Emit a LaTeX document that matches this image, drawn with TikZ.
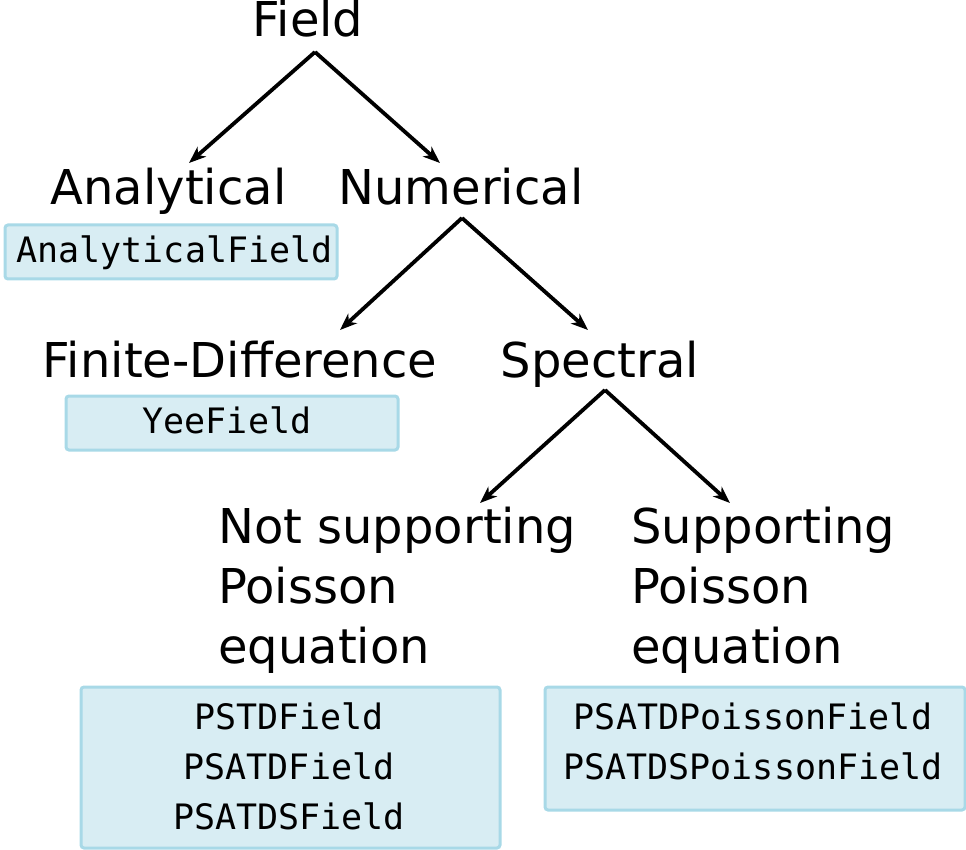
\documentclass[tikz,border=0pt]{standalone}
\usepackage{fontspec}
\setmainfont{DejaVu Sans}
\setmonofont{DejaVu Sans Mono}
\usetikzlibrary{arrows.meta}
\definecolor{boxfill}{RGB}{216,237,243}
\definecolor{boxedge}{RGB}{168,217,231}
\tikzset{
  lbl/.style={font=\fontsize{48pt}{60pt}\selectfont, inner sep=0pt, anchor=base},
  cls/.style={draw=boxedge, fill=boxfill, line width=3pt, rounded corners=3pt, inner sep=0pt, anchor=north west},
  code/.style={font=\ttfamily\fontsize{35pt}{50pt}\selectfont, inner sep=0pt, anchor=base},
  arr/.style={line width=3.8pt, -{Stealth[length=17pt,width=13pt,inset=5pt]}}
}
\begin{document}
\begin{tikzpicture}[x=1pt,y=-1pt]
\useasboundingbox (0,0) rectangle (966,850);
% labels
\node[lbl] (field) at (308,37) {Field};
\node[lbl] (analytical) at (168.5,205) {Analytical};
\node[lbl] (numerical) at (461,205) {Numerical};
\node[lbl] (fd) at (240,377) {Finite-Difference};
\node[lbl] (spectral) at (600,377) {Spectral};
\node[lbl, anchor=base west] (nsp) at (218,543) {\begin{tabular}[t]{@{}l@{}}Not supporting\\Poisson\\equation\end{tabular}};
\node[lbl, anchor=base west] (sp) at (631,543) {\begin{tabular}[t]{@{}l@{}}Supporting\\Poisson\\equation\end{tabular}};
% class boxes
\node[cls, minimum width=332pt, minimum height=54pt] (afbox) at (3.5,223.5) {};
\node[code] (afcode) at (174.5,262) {AnalyticalField};
\node[cls, minimum width=332pt, minimum height=54pt] (yeebox) at (64.5,394.5) {};
\node[code] (yeecode) at (227,433) {YeeField};
\node[cls, minimum width=419pt, minimum height=161pt] (psbox) at (79.5,685.5) {};
\node[code, anchor=base] (pscode) at (289,729) {\begin{tabular}[t]{@{}c@{}}PSTDField\\PSATDField\\PSATDSField\end{tabular}};
\node[cls, minimum width=420pt, minimum height=123pt] (ppbox) at (543.5,685.5) {};
\node[code, anchor=base] (ppcode) at (753,729) {\begin{tabular}[t]{@{}c@{}}PSATDPoissonField\\PSATDSPoissonField\end{tabular}};
% connector points
\coordinate (fapex) at (315,52);
\coordinate (fl) at (189,163);
\coordinate (fr) at (440,163);
\coordinate (napex) at (462,218);
\coordinate (nl) at (340,330);
\coordinate (nr) at (588,330);
\coordinate (sapex) at (605,390);
\coordinate (sl) at (480,503);
\coordinate (sr) at (730,503);
\draw[arr] (fapex) -- (fl);
\draw[arr] (fapex) -- (fr);
\draw[arr] (napex) -- (nl);
\draw[arr] (napex) -- (nr);
\draw[arr] (sapex) -- (sl);
\draw[arr] (sapex) -- (sr);
\end{tikzpicture}
\end{document}
